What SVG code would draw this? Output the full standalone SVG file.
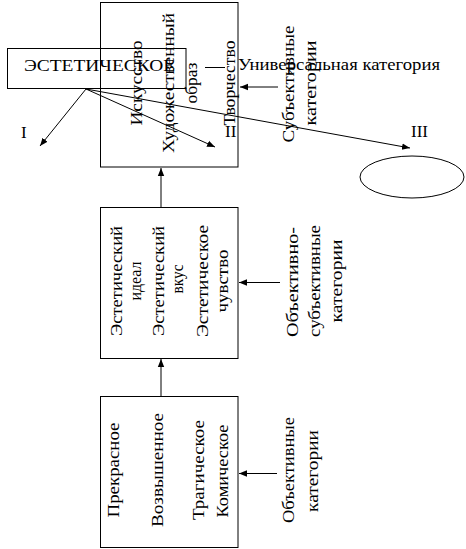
<svg xmlns="http://www.w3.org/2000/svg" width="466" height="549" viewBox="0 0 466 549">
<style>
.box{fill:none;stroke:#000;stroke-width:1}
.t{font-family:"Liberation Serif","Times New Roman",serif;font-size:17px;fill:#000}
.h{font-size:16px}
.v{text-anchor:middle}
.c{stroke:#000;stroke-width:1;fill:none}
.a{marker-end:url(#ah)}
</style>
<defs>
<marker id="ah" markerUnits="userSpaceOnUse" markerWidth="8" markerHeight="8" viewBox="0 0 8 8" refX="8" refY="4" orient="auto">
<path d="M0,0.8 L8,4 L0,7.2 Z" fill="#000"/>
</marker>
</defs>
<rect width="466" height="549" fill="#fff"/>
<g id="node-art">
<rect class="box" x="100.5" y="2.5" width="137.5" height="164.5"/>
<text class="t v" transform="translate(142,83) rotate(-90)" textLength="85" lengthAdjust="spacingAndGlyphs">Искусство</text>
<text class="t v" transform="translate(174,83) rotate(-90)" textLength="140" lengthAdjust="spacingAndGlyphs">Художественный</text>
<text class="t v" transform="translate(197,83) rotate(-90)" textLength="41" lengthAdjust="spacingAndGlyphs">образ</text>
<text class="t v" transform="translate(235,83) rotate(-90)" textLength="85" lengthAdjust="spacingAndGlyphs">Творчество</text>
</g>
<g id="node-aesthetic">
<rect class="box" x="7.5" y="48.5" width="178.5" height="40"/>
<text class="t h" x="24" y="70.5" textLength="151" lengthAdjust="spacingAndGlyphs">ЭСТЕТИЧЕСКОЕ</text>
</g>
<g id="node-ideal">
<rect class="box" x="100.5" y="207.5" width="137.5" height="151"/>
<text class="t v" transform="translate(122,281) rotate(-90)" textLength="110" lengthAdjust="spacingAndGlyphs">Эстетический</text>
<text class="t v" transform="translate(141,281) rotate(-90)" textLength="39" lengthAdjust="spacingAndGlyphs">идеал</text>
<text class="t v" transform="translate(164,281) rotate(-90)" textLength="110" lengthAdjust="spacingAndGlyphs">Эстетический</text>
<text class="t v" transform="translate(183,279) rotate(-90)" textLength="29" lengthAdjust="spacingAndGlyphs">вкус</text>
<text class="t v" transform="translate(208,281) rotate(-90)" textLength="112" lengthAdjust="spacingAndGlyphs">Эстетическое</text>
<text class="t v" transform="translate(228,281) rotate(-90)" textLength="63" lengthAdjust="spacingAndGlyphs">чувство</text>
</g>
<g id="node-beautiful">
<rect class="box" x="100.5" y="396.5" width="137.5" height="151"/>
<text class="t v" transform="translate(119,470) rotate(-90)" textLength="95" lengthAdjust="spacingAndGlyphs">Прекрасное</text>
<text class="t v" transform="translate(163,470) rotate(-90)" textLength="114" lengthAdjust="spacingAndGlyphs">Возвышенное</text>
<text class="t v" transform="translate(204,470) rotate(-90)" textLength="100" lengthAdjust="spacingAndGlyphs">Трагическое</text>
<text class="t v" transform="translate(228,471) rotate(-90)" textLength="93" lengthAdjust="spacingAndGlyphs">Комическое</text>
</g>
<g id="label-universal">
<text class="t" x="238" y="70" textLength="202" lengthAdjust="spacingAndGlyphs">Универсальная категория</text>
</g>
<g id="label-subjective">
<text class="t v" transform="translate(294,84) rotate(-90)" textLength="117" lengthAdjust="spacingAndGlyphs">Субъективные</text>
<text class="t v" transform="translate(316,83) rotate(-90)" textLength="85" lengthAdjust="spacingAndGlyphs">категории</text>
</g>
<g id="label-objsubj">
<text class="t v" transform="translate(298,282) rotate(-90)" textLength="110" lengthAdjust="spacingAndGlyphs">Объективно-</text>
<text class="t v" transform="translate(320,281) rotate(-90)" textLength="112" lengthAdjust="spacingAndGlyphs">субъективные</text>
<text class="t v" transform="translate(342,281) rotate(-90)" textLength="83" lengthAdjust="spacingAndGlyphs">категории</text>
</g>
<g id="label-objective">
<text class="t v" transform="translate(294,470) rotate(-90)" textLength="106" lengthAdjust="spacingAndGlyphs">Объективные</text>
<text class="t v" transform="translate(318,471) rotate(-90)" textLength="82" lengthAdjust="spacingAndGlyphs">категории</text>
</g>
<g id="label-I"><text class="t" x="21" y="138">I</text></g>
<g id="label-II"><text class="t" x="225" y="137">II</text></g>
<g id="label-III"><text class="t" x="411" y="137">III</text></g>
<g id="node-ellipse">
<ellipse class="box" cx="412" cy="177" rx="52" ry="21"/>
</g>
<g id="connectors">
<line class="c a" x1="86" y1="89" x2="40" y2="146"/>
<line class="c a" x1="86" y1="89" x2="215" y2="147"/>
<line class="c a" x1="86" y1="89" x2="410" y2="148"/>
<line class="c" x1="205" y1="67.5" x2="225" y2="67.5"/>
<line class="c a" x1="278" y1="87" x2="240" y2="87"/>
<line class="c a" x1="161" y1="207" x2="161" y2="168"/>
<line class="c a" x1="161" y1="396" x2="161" y2="359"/>
<line class="c a" x1="280" y1="282.5" x2="239" y2="282.5"/>
<line class="c a" x1="277" y1="473.5" x2="239" y2="473.5"/>
</g>
</svg>
